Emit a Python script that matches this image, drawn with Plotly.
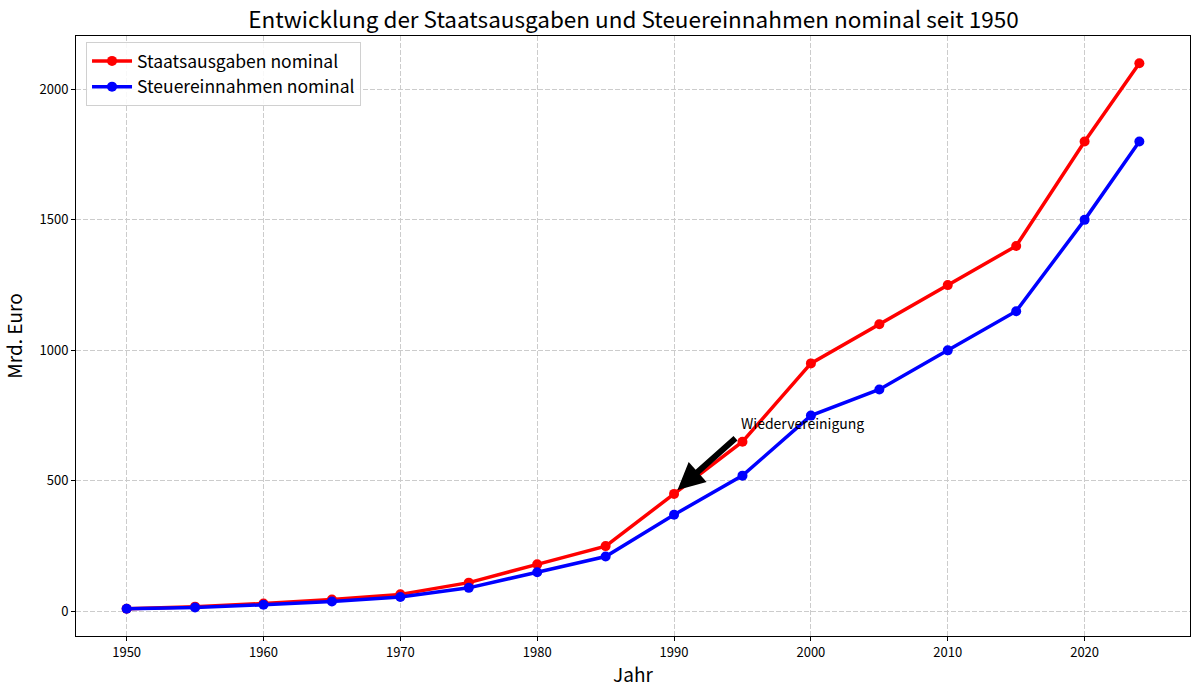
import plotly.graph_objects as go

years = [1950, 1955, 1960, 1965, 1970, 1975, 1980, 1985, 1990, 1995, 2000, 2005, 2010, 2015, 2020, 2024]
staatsausgaben = [10, 18, 30, 45, 65, 110, 180, 250, 450, 650, 950, 1100, 1250, 1400, 1800, 2100]
steuereinnahmen = [10, 15, 25, 38, 55, 90, 150, 210, 370, 520, 750, 850, 1000, 1150, 1500, 1800]
x_ticks = [1950, 1960, 1970, 1980, 1990, 2000, 2010, 2020]
y_ticks = [0, 500, 1000, 1500, 2000]

FONT = "Noto Sans CJK JP"

fig = go.Figure()
fig.add_trace(go.Scatter(x=years, y=staatsausgaben, mode="lines+markers", name="Staatsausgaben nominal",
                         line=dict(color="red", width=3.5), marker=dict(color="red", size=10)))
fig.add_trace(go.Scatter(x=years, y=steuereinnahmen, mode="lines+markers", name="Steuereinnahmen nominal",
                         line=dict(color="blue", width=3.5), marker=dict(color="blue", size=10)))

# arrow
fig.add_annotation(x=1990.25, y=465, ax=1994.6, ay=668, xref="x", yref="y", axref="x", ayref="y",
                   text="", showarrow=True, arrowhead=2, arrowsize=0.9, arrowwidth=6, arrowcolor="black")
# text
fig.add_annotation(x=1995, y=700, xref="x", yref="y", text="Wiedervereinigung", showarrow=False,
                   xanchor="left", yanchor="bottom", yshift=-6, xshift=-3,
                   font=dict(family=FONT, size=14, color="black"))

axis_common = dict(showline=True, linecolor="black", linewidth=1, mirror=True,
                   ticks="outside", ticklen=4, tickcolor="black",
                   showgrid=True, gridcolor="#cccccc", griddash="5px,2px", gridwidth=1,
                   zeroline=False, tickfont=dict(family=FONT, size=13, color="black"))

fig.update_layout(
    width=1200, height=697,
    paper_bgcolor="white", plot_bgcolor="white",
    margin=dict(l=76, r=10, t=36, b=61),
    title=dict(text="Entwicklung der Staatsausgaben und Steuereinnahmen nominal seit 1950",
               x=0.528, xanchor="center", y=0.971, yanchor="middle",
               font=dict(family=FONT, size=22.5, color="black")),
    xaxis=dict(range=[1946.3, 2027.7], tickvals=x_ticks,
               title=dict(text="Jahr", font=dict(family=FONT, size=19, color="black"), standoff=9),
               **axis_common),
    yaxis=dict(range=[-94.5, 2204.5], tickvals=y_ticks,
               title=dict(text="Mrd. Euro", font=dict(family=FONT, size=19, color="black"), standoff=12),
               **axis_common),
    legend=dict(x=0.009, y=0.99, xanchor="left", yanchor="top",
                bgcolor="rgba(255,255,255,0.85)", bordercolor="#d0d0d0", borderwidth=1,
                font=dict(family=FONT, size=17.5, color="black"), tracegroupgap=0,
                itemwidth=40),
    showlegend=True,
)

fig.write_html("out.html")
